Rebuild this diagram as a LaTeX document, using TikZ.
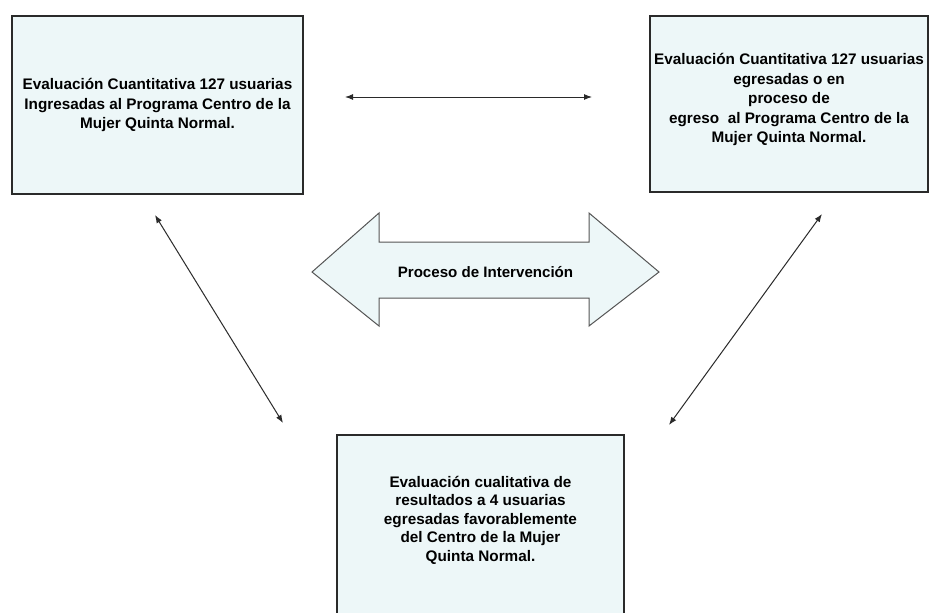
\documentclass[tikz,border=0pt]{standalone}
\usepackage{fontspec}
\setmainfont{Liberation Sans}
\usetikzlibrary{arrows.meta}
\definecolor{boxfill}{HTML}{EDF7F8}
\definecolor{linegray}{HTML}{2A2A2A}

\begin{document}
\begin{tikzpicture}[x=1pt, y=-1pt,
    evalbox/.style={draw=linegray,
      line width=1.3pt,
      fill=boxfill,
      inner sep=1pt,
      align=center,
      font=\bfseries\fontsize{15.3}{19.5}\selectfont},
    link/.style={{Latex[length=8pt,width=6pt]}-{Latex[length=8pt,width=6pt]},
      line width=1pt, draw=linegray}]
    \clip (0,0) rectangle (929,613);
    \fill[white] (0,0) rectangle (929,613);

    % Entrada
    \node[evalbox,
      minimum width=291pt,
      minimum height=178pt] (izq) at (157.5,105) {Evaluación Cuantitativa 127 usuarias\\Ingresadas al Programa Centro de la\\Mujer Quinta Normal.};

    % Egreso
    \node[evalbox,
      minimum width=278pt,
      minimum height=176pt] (der) at (789,104) {Evaluación Cuantitativa 127 usuarias\\egresadas o en\\proceso de\\egreso\ \ al Programa Centro de la\\Mujer Quinta Normal.\\[-8pt]};

    % Cualitativa
    \node[evalbox,
      font=\bfseries\fontsize{15.3}{18.5}\selectfont,
      minimum width=287pt,
      minimum height=190pt] (abajo) at (480.5,530) {Evaluación cualitativa de\\resultados a 4 usuarias\\egresadas favorablemente\\del Centro de la Mujer\\Quinta Normal.\\[4pt]};

    % Proceso
    \draw[draw=linegray!80, line width=1pt, fill=boxfill]
      (312,272) -- (379,213) -- (379,242) -- (589,242) -- (589,213)
      -- (659,272) -- (589,326) -- (589,298) -- (379,298) -- (379,326) -- cycle;
    \node[font=\bfseries\fontsize{15.1}{18}\selectfont] (proceso) at (485.5,272) {Proceso de Intervención};

    % Arrow ends
    \coordinate (h1) at (345,97);
    \coordinate (h2) at (592,97);
    \coordinate (l1) at (155,215);
    \coordinate (l2) at (283,423);
    \coordinate (r1) at (822,214);
    \coordinate (r2) at (669,425);

    % Draw Arrows
    \draw[link] (h1) -- (h2);
    \draw[link] (l1) -- (l2);
    \draw[link] (r1) -- (r2);
  \end{tikzpicture}
\end{document}
